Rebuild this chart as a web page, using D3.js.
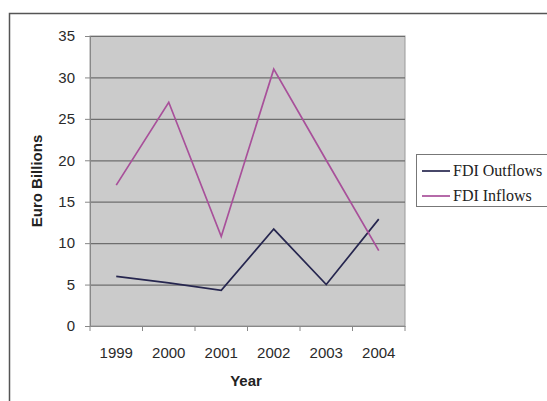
<!DOCTYPE html>
<html><head><meta charset="utf-8">
<script src="https://cdn.jsdelivr.net/npm/d3@7"></script>
<style>body{margin:0;background:#fff}svg{display:block}</style>
</head><body>
<script>
const years = ["1999","2000","2001","2002","2003","2004"];
const outflows = [6, 5.2, 4.3, 11.7, 5.0, 12.9];
const inflows = [17, 27, 10.8, 31, 20, 9.1];
const yTicks = [0,5,10,15,20,25,30,35];
const seriesNames = ["FDI Outflows","FDI Inflows"];
const colors = ["#26264f","#a8509a"];

const W=547,H=401;
const svg=d3.select("body").append("svg").attr("width",W).attr("height",H);
// outer frame
svg.append("path").attr("d","M9.5,401 V13.5 H547").attr("fill","none").attr("stroke","#555").attr("stroke-width",1.5);

const pL=90,pR=405,pT=36,pB=326;
const x=d3.scaleBand().domain(years).range([pL,pR]);
const y=d3.scaleLinear().domain([0,35]).range([pB,pT]);

svg.append("rect").attr("x",pL).attr("y",pT).attr("width",pR-pL).attr("height",pB-pT).attr("fill","#cbcbcb").attr("stroke","#999");
// gridlines
svg.append("g").selectAll("line").data(yTicks.filter(d=>d>0)).join("line")
 .attr("x1",pL).attr("x2",pR).attr("y1",d=>y(d)+0.5).attr("y2",d=>y(d)+0.5)
 .attr("stroke","#6e6e6e").attr("stroke-width",1.2);

const fs="Liberation Sans, Arial, sans-serif";
const ya=svg.append("g").attr("transform",`translate(${pL},0)`)
 .call(d3.axisLeft(y).tickValues(yTicks).tickSize(5).tickPadding(10));
ya.select(".domain").attr("stroke","#888");
ya.selectAll(".tick line").attr("stroke","#888");
ya.selectAll("text").attr("font-family",fs).attr("font-size",15).attr("fill","#2a2a2a");

const xa=svg.append("g").attr("transform",`translate(0,${pB})`)
 .call(d3.axisBottom(x).tickSize(0).tickPadding(21));
xa.select(".domain").attr("stroke","#888");
xa.selectAll("text").attr("font-family",fs).attr("font-size",15).attr("fill","#2a2a2a");
// category boundary ticks
const bounds=years.map(d=>x(d)).concat([pR]);
svg.append("g").selectAll("line").data(bounds).join("line")
 .attr("x1",d=>d).attr("x2",d=>d).attr("y1",pB).attr("y2",pB+5).attr("stroke","#888");

const line=d3.line().x((d,i)=>x(years[i])+x.bandwidth()/2).y(d=>y(d));
[outflows,inflows].forEach((s,i)=>{
 svg.append("path").datum(s).attr("d",line).attr("fill","none").attr("stroke",colors[i]).attr("stroke-width",1.7);
});

svg.append("text").attr("transform","translate(42,181) rotate(-90)").attr("text-anchor","middle")
 .attr("font-family",fs).attr("font-weight","bold").attr("font-size",15).attr("fill","#222").text("Euro Billions");
svg.append("text").attr("x",246).attr("y",386).attr("text-anchor","middle")
 .attr("font-family",fs).attr("font-weight","bold").attr("font-size",15).attr("fill","#222").text("Year");

// legend
const lg=svg.append("g");
lg.append("rect").attr("x",416.5).attr("y",154.5).attr("width",140).attr("height",52).attr("fill","#fff").attr("stroke","#777");
seriesNames.forEach((n,i)=>{
 const yy=171+i*25;
 lg.append("line").attr("x1",422).attr("x2",450).attr("y1",yy).attr("y2",yy).attr("stroke",colors[i]).attr("stroke-width",1.7);
 lg.append("text").attr("x",453).attr("y",yy+5).attr("font-family","Liberation Serif, Times New Roman, serif").attr("font-size",16).attr("fill","#222").text(n);
});
</script>
</body></html>
